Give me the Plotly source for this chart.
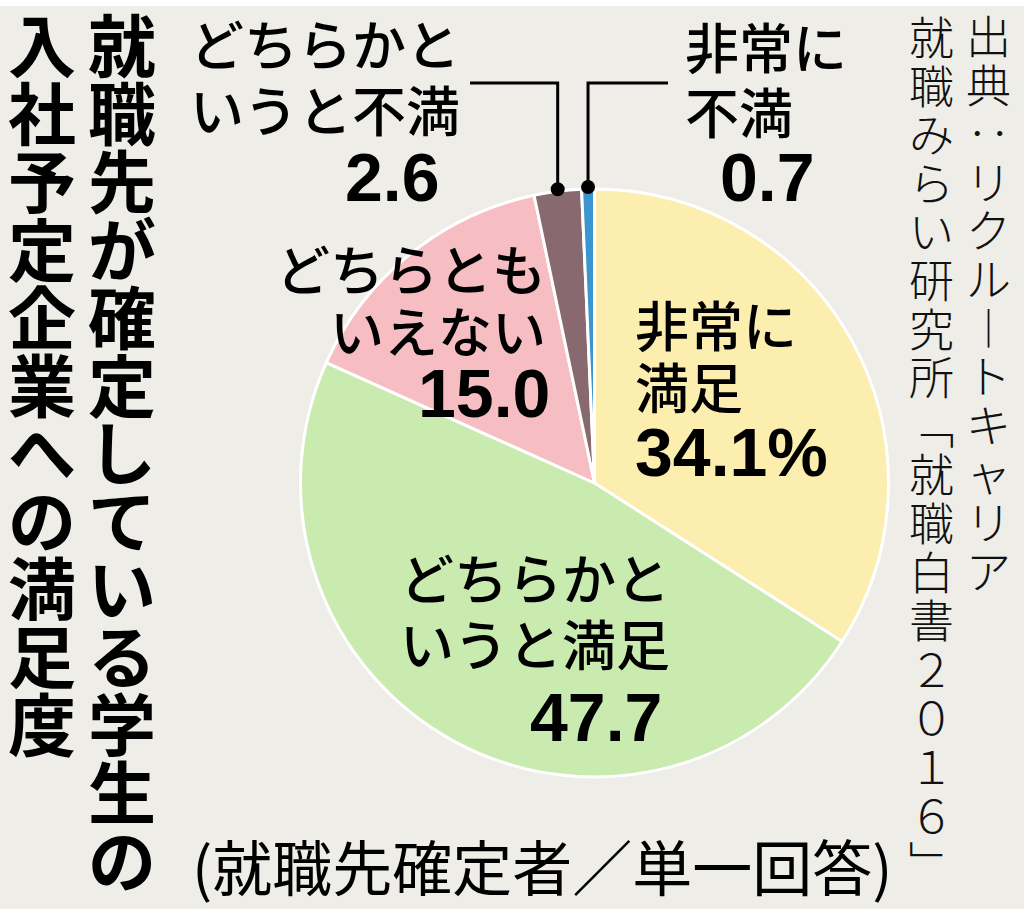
import math
import plotly.graph_objects as go

# ---- data ----
categories = ["非常に満足", "どちらかというと満足", "どちらともいえない", "どちらかというと不満", "非常に不満"]
values = [34.1, 47.7, 15.0, 2.6, 0.7]
label_lines = [["非常に", "満足"], ["どちらかと", "いうと満足"], ["どちらとも", "いえない"],
               ["どちらかと", "いうと不満"], ["非常に", "不満"]]
colors = ["#fbeeae", "#c9ebaf", "#f6bdc2", "#87696f", "#3b95cf"]
title_cols = ["就職先が確定している学生の", "入社予定企業への満足度"]
source_cols = ["出典‥リクル︱トキャリア", "就職みらい研究所﹁就職白書２０１６﹂"]
note_text = "(就職先確定者／単一回答)"

W, H = 1024, 909
BG = "#eeede8"
CJK = "Noto Sans CJK JP"
NUM = "Liberation Sans"


def X(px):
    return px / W


def Y(py):
    return 1 - py / H


def vertical(text, glyph_px):
    return "<br>".join(f"<span style='font-size:{glyph_px}px'>{ch}</span>" for ch in text)


# pie geometry in pixels
cx, cy, R = 594.5, 483.0, 294.0

fig = go.Figure()
fig.add_trace(go.Pie(
    labels=categories, values=values, sort=False, direction="clockwise", rotation=0,
    marker=dict(colors=colors, line=dict(color="white", width=3)),
    textinfo="none", hoverinfo="label+value", showlegend=False,
    domain=dict(x=[X(cx - R), X(cx + R)], y=[Y(cy + R), Y(cy - R)]),
))

ann = []
shapes = []

# white strip at top
shapes.append(dict(type="rect", xref="paper", yref="paper", x0=0, x1=1, y0=Y(6), y1=1,
                   fillcolor="white", line=dict(width=0), layer="below"))

# vertical title: one column per annotation, line pitch = 1.3 * base font size
title_x = [122, 42]
pitch_t = 67.9
for col, xc in zip(title_cols, title_x):
    first = 43
    last = first + (len(col) - 1) * pitch_t
    ann.append(dict(x=X(xc), y=Y((first + last) / 2), xref="paper", yref="paper",
                    text=vertical(col, 68), showarrow=False, align="center",
                    xanchor="center", yanchor="middle",
                    font=dict(family=CJK, size=pitch_t / 1.3, color="black", weight=700)))

# vertical source
src_x = [988, 931]
pitch_s = 48.6
for col, xc in zip(source_cols, src_x):
    first = 35
    last = first + (len(col) - 1) * pitch_s
    ann.append(dict(x=X(xc), y=Y((first + last) / 2), xref="paper", yref="paper",
                    text=vertical(col, 45), showarrow=False, align="center",
                    xanchor="center", yanchor="middle",
                    font=dict(family=CJK, size=pitch_s / 1.3, color="#111", weight=300)))

# slice labels: (anchor x, align, line y centres, number x, number anchor, number y)
label_layout = [
    (633, "left", [323, 385], 633, "left", 452),
    (672, "right", [576, 642], 664, "right", 717),
    (548, "right", [267, 330], 552, "right", 393),
    (462, "right", [42, 108], 442, "right", 177),
    (683, "left", [45, 110], 718, "left", 177),
]
for k, (lines, v) in enumerate(zip(label_lines, values)):
    ax, al, ys, nx, nal, ny = label_layout[k]
    for t, yy in zip(lines, ys):
        ann.append(dict(x=X(ax), y=Y(yy), xref="paper", yref="paper", text=t, showarrow=False,
                        xanchor=al, yanchor="middle",
                        font=dict(family=CJK, size=54, color="black", weight=500)))
    num = f"{v:.1f}%" if k == 0 else f"{v:.1f}"
    ann.append(dict(x=X(nx), y=Y(ny), xref="paper", yref="paper", text=num, showarrow=False,
                    xanchor=nal, yanchor="middle",
                    font=dict(family=NUM, size=68, color="black", weight=700)))

# leader lines for small slices, dot on slice mid-angle at pie edge
total = sum(values)
cum = 0
mids = []
for v in values:
    mids.append((cum + v / 2) / total * 2 * math.pi)
    cum += v
line_y = 83
ends = {3: 470, 4: 668}
for k, xend in ends.items():
    a = mids[k]
    dx = cx + R * math.sin(a)
    dy = cy - R * math.cos(a) - 2
    shapes.append(dict(type="path", xref="paper", yref="paper",
                       path=f"M {X(dx)},{Y(dy)} L {X(dx)},{Y(line_y)} L {X(xend)},{Y(line_y)}",
                       line=dict(color="black", width=3)))
    r = 7
    shapes.append(dict(type="circle", xref="paper", yref="paper",
                       x0=X(dx - r), x1=X(dx + r), y0=Y(dy + r), y1=Y(dy - r),
                       fillcolor="black", line=dict(color="black", width=0)))

# note
ann.append(dict(x=X(542), y=Y(864), xref="paper", yref="paper", text=note_text, showarrow=False,
                xanchor="center", yanchor="middle",
                font=dict(family=CJK, size=60, color="black", weight=400)))

fig.update_layout(
    width=W, height=H, autosize=False,
    margin=dict(l=0, r=0, t=0, b=0, pad=0),
    paper_bgcolor=BG, plot_bgcolor=BG,
    annotations=ann, shapes=shapes,
)
fig.write_html("out.html", config={"displayModeBar": False},
               post_script="document.body.style.margin='0';")
